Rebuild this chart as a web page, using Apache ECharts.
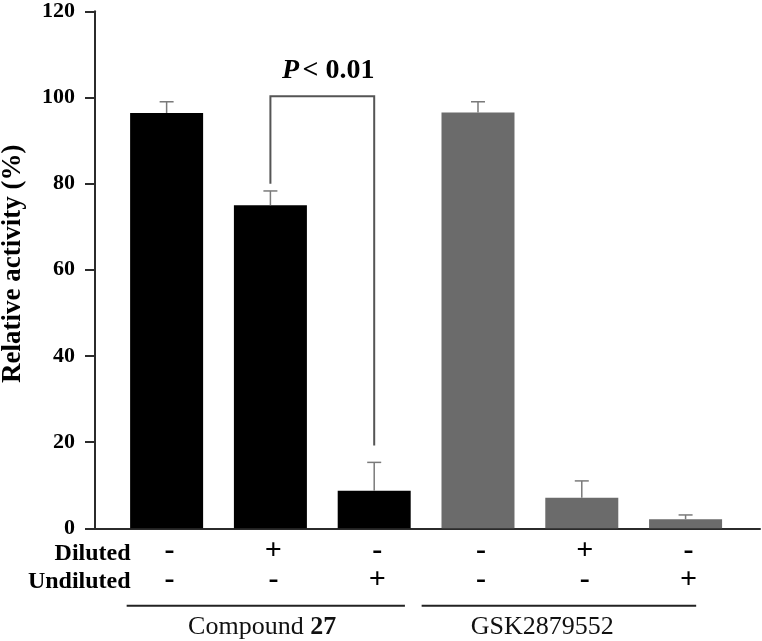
<!DOCTYPE html>
<html>
<head>
<meta charset="utf-8">
<script src="https://cdn.jsdelivr.net/npm/echarts@6/dist/echarts.min.js"></script>
<style>
  html, body { margin: 0; padding: 0; background: #fff; }
  #chart { width: 762px; height: 641px; }
</style>
</head>
<body>
<div id="chart"></div>
<script>
// bar slots along the x axis (one per condition)
var positions = [1, 2, 3, 4, 5, 6];
var activity = [96.4, 75.0, 8.7, 96.5, 7.1, 2.1];
var errors = [2.6, 3.3, 6.6, 2.5, 3.9, 1.0];
var diluted = ['-', '+', '-', '-', '+', '-'];
var undiluted = ['-', '-', '+', '-', '-', '+'];
var groupOf = [0, 0, 0, 1, 1, 1];
var groupNames = ['Compound ', 'GSK2879552'];
var groupSuffix = ['27', ''];
var yTicks = [0, 20, 40, 60, 80, 100, 120];
// significance bracket between slot 2 and 3
var bracketSlots = [2, 3];
var bracketEnds = [80, 19.2];
var bracketTop = 100.3;
var pLabel = '< 0.01';

;(function () {
    var serif = "'Liberation Serif', 'Times New Roman', serif";
    var axisColor = '#2b2b2b';
    var groupColors = ['#000000', '#6b6b6b'];
    var errColor = '#7a7a7a';

    var chart = echarts.init(document.getElementById('chart'));

    var barData = positions.map(function (x, i) {
        return {
            value: [x, activity[i]],
            itemStyle: { color: groupColors[groupOf[i]] }
        };
    });

    var option = {
        animation: false,
        backgroundColor: '#fff',
        grid: { left: 95, right: 2, top: 11.3, bottom: 112.7, containLabel: false, outerBoundsMode: 'none' },
        xAxis: {
            type: 'value',
            min: 0.31,
            max: 6.717,
            axisLine: { show: true, lineStyle: { color: axisColor, width: 2 } },
            axisTick: { show: false },
            axisLabel: { show: false },
            splitLine: { show: false }
        },
        yAxis: {
            type: 'value',
            min: yTicks[0],
            max: yTicks[yTicks.length - 1],
            interval: 20,
            name: 'Relative activity (%)',
            nameLocation: 'middle',
            nameGap: 68,
            nameTextStyle: {
                fontFamily: serif, fontWeight: 'bold', fontSize: 27, color: '#000',
                padding: [0, 0, 0, 12]
            },
            axisLine: { show: true, lineStyle: { color: axisColor, width: 2 } },
            axisTick: { show: true, length: 10, lineStyle: { color: axisColor, width: 2 } },
            axisLabel: {
                margin: 20, fontFamily: serif, fontWeight: 'bold', fontSize: 22, color: '#000'
            },
            splitLine: { show: false }
        },
        series: [
            {
                type: 'bar',
                barWidth: 73,
                data: barData,
                z: 2
            },
            {
                // upward error bars
                type: 'custom',
                z: 3,
                data: positions.map(function (x, i) { return [x, activity[i], errors[i]]; }),
                renderItem: function (params, api) {
                    var x = api.value(0);
                    var top = api.coord([x, api.value(1)]);
                    var cap = api.coord([x, api.value(1) + api.value(2)]);
                    var st = { stroke: errColor, lineWidth: 1.5 };
                    return {
                        type: 'group',
                        children: [
                            { type: 'line', shape: { x1: top[0], y1: top[1], x2: cap[0], y2: cap[1] }, style: st },
                            { type: 'line', shape: { x1: cap[0] - 7, y1: cap[1], x2: cap[0] + 7, y2: cap[1] }, style: st }
                        ]
                    };
                }
            },
            {
                // +/- rows under the axis
                type: 'custom',
                z: 3,
                data: positions.map(function (x, i) { return [x, i]; }),
                renderItem: function (params, api) {
                    var i = api.value(1);
                    var p = api.coord([api.value(0), 0]);
                    var mk = { fontFamily: serif, fontWeight: 'bold', fontSize: 30, fill: '#000',
                        align: 'center', verticalAlign: 'middle' };
                    var children = [
                        { type: 'text', x: p[0] + 3, y: p[1] + 23,
                          style: Object.assign({ text: diluted[i] }, mk) },
                        { type: 'text', x: p[0] + 3, y: p[1] + 52,
                          style: Object.assign({ text: undiluted[i] }, mk) }
                    ];
                    if (params.dataIndex === 0) {
                        var hd = { fontFamily: serif, fontWeight: 'bold', fontSize: 24, fill: '#000',
                            align: 'right', verticalAlign: 'middle' };
                        children.push(
                            { type: 'text', x: p[0] - 36, y: p[1] + 25, style: Object.assign({ text: 'Diluted' }, hd) },
                            { type: 'text', x: p[0] - 36, y: p[1] + 53, style: Object.assign({ text: 'Undiluted' }, hd) }
                        );
                    }
                    return { type: 'group', children: children };
                }
            },
            {
                // group underlines and names
                type: 'custom',
                z: 3,
                data: [[0.615, 3.296, 0, 1.92], [3.457, 6.102, 1, 4.62]],
                renderItem: function (params, api) {
                    var a = api.coord([api.value(0), 0]);
                    var b = api.coord([api.value(1), 0]);
                    var g = api.value(2);
                    var c = api.coord([api.value(3), 0]);
                    return {
                        type: 'group',
                        children: [
                            { type: 'line', shape: { x1: a[0], y1: a[1] + 77.5, x2: b[0], y2: b[1] + 77.5 },
                              style: { stroke: '#222', lineWidth: 2 } },
                            { type: 'text', x: c[0], y: c[1] + 99,
                              style: {
                                  text: '{n|' + groupNames[g] + '}' + (groupSuffix[g] ? '{b|' + groupSuffix[g] + '}' : ''),
                                  align: 'center', verticalAlign: 'middle',
                                  rich: {
                                      n: { fontFamily: serif, fontSize: 26, fill: '#111' },
                                      b: { fontFamily: serif, fontSize: 26, fontWeight: 'bold', fill: '#111' }
                                  }
                              } }
                        ]
                    };
                }
            },
            {
                // significance bracket
                type: 'custom',
                z: 4,
                data: [[bracketSlots[0], bracketSlots[1], bracketEnds[0], bracketEnds[1], bracketTop]],
                renderItem: function (params, api) {
                    var x1 = api.value(0), x2 = api.value(1), top = api.value(4);
                    var p1 = api.coord([x1, api.value(2)]);
                    var p2 = api.coord([x1, top]);
                    var p3 = api.coord([x2, top]);
                    var p4 = api.coord([x2, api.value(3)]);
                    return {
                        type: 'group',
                        children: [
                            { type: 'polyline', shape: { points: [p1, p2, p3, p4] },
                              style: { stroke: '#555', lineWidth: 2, fill: null } },
                            { type: 'text', x: (p2[0] + p3[0]) / 2 + 6, y: p2[1] - 25,
                              style: {
                                  text: '{p|P} {t|' + pLabel + '}',
                                  align: 'center', verticalAlign: 'middle',
                                  rich: {
                                      p: { fontFamily: serif, fontSize: 28, fontWeight: 'bold', fontStyle: 'italic', fill: '#000' },
                                      t: { fontFamily: serif, fontSize: 28, fontWeight: 'bold', fill: '#000' }
                                  }
                              } }
                        ]
                    };
                }
            }
        ]
    };

    chart.setOption(option);
})()
</script>
</body>
</html>
